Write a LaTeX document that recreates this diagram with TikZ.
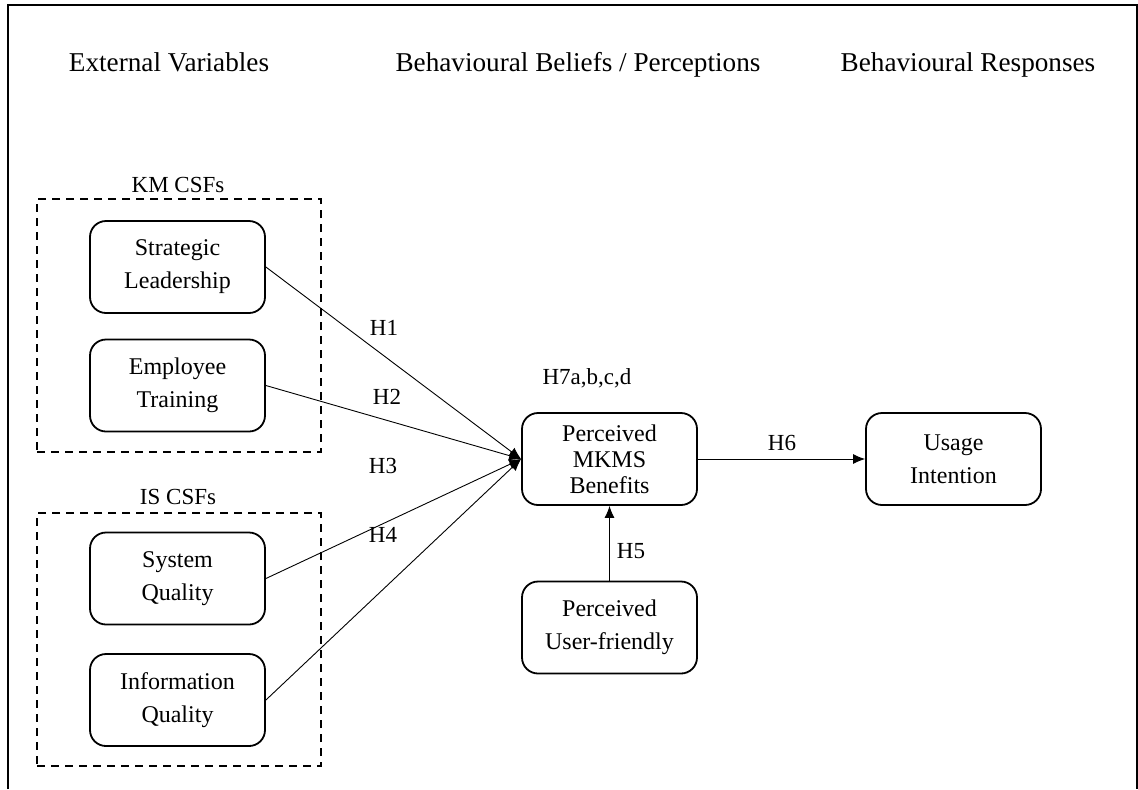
\documentclass[tikz,border=0pt]{standalone}
\usepackage{fontspec}
\setmainfont{Liberation Serif}
\usetikzlibrary{arrows.meta}
\begin{document}
\begin{tikzpicture}[x=0.5pt,y=-0.5pt,
  box/.style={draw,line width=0.9pt,rounded corners=8pt,minimum width=87.5pt,minimum height=46pt,align=center,font=\fontsize{12}{16.5}\selectfont,inner sep=0pt},
  box3/.style={box,font=\fontsize{12}{13}\selectfont},
  grp/.style={draw,line width=0.9pt,dash pattern=on 4pt off 3pt,minimum width=142pt,minimum height=126.5pt,inner sep=0pt},
  lbl/.style={font=\fontsize{11.5}{13.5}\selectfont,inner sep=1pt},
  head/.style={font=\fontsize{13.6}{16}\selectfont,inner sep=1pt,anchor=base},
  conn/.style={line width=0.45pt,-{Latex[length=6pt,width=5pt]}}]
\useasboundingbox (0,0) rectangle (1138,789);
\draw[line width=1pt] (8,789) -- (8,5) -- (1137,5) -- (1137,789);
\node[head] (h1) at (169,71) {External Variables};
\node[head] (h2) at (578,71) {Behavioural Beliefs / Perceptions};
\node[head] (h3) at (968,71) {Behavioural Responses};
\node[grp] (km) at (179,325.5) {};
\node[grp] (is) at (179,639.5) {};
\node[lbl] (kml) at (178,185) {KM CSFs};
\node[lbl] (isl) at (178,497) {IS CSFs};
\node[box] (sl) at (177.5,267) {Strategic\\Leadership};
\node[box] (et) at (177.5,385.5) {Employee\\Training};
\node[box] (sq) at (177.5,578.5) {System\\Quality};
\node[box] (iq) at (177.5,700) {Information\\Quality};
\node[box3] (pmb) at (609.5,459) {Perceived\\MKMS\\Benefits};
\node[box] (ui) at (953.5,459) {Usage\\Intention};
\node[box] (puf) at (609.5,627.5) {Perceived\\User-friendly};
\node[lbl] (h7) at (587,378) {H7a,b,c,d};
\draw[conn] (sl.east) -- (pmb.west);
\draw[conn] (et.east) -- (pmb.west);
\draw[conn] (sq.east) -- (pmb.west);
\draw[conn] (iq.east) -- (pmb.west);
\draw[conn] (puf.north) -- (pmb.south);
\draw[conn] (pmb.east) -- (ui.west);
\node[lbl] (lh1) at (384,328) {H1};
\node[lbl] (lh2) at (387,397) {H2};
\node[lbl] (lh3) at (383,466) {H3};
\node[lbl] (lh4) at (383,535) {H4};
\node[lbl] (lh5) at (631,551) {H5};
\node[lbl] (lh6) at (782,443) {H6};
\end{tikzpicture}
\end{document}
